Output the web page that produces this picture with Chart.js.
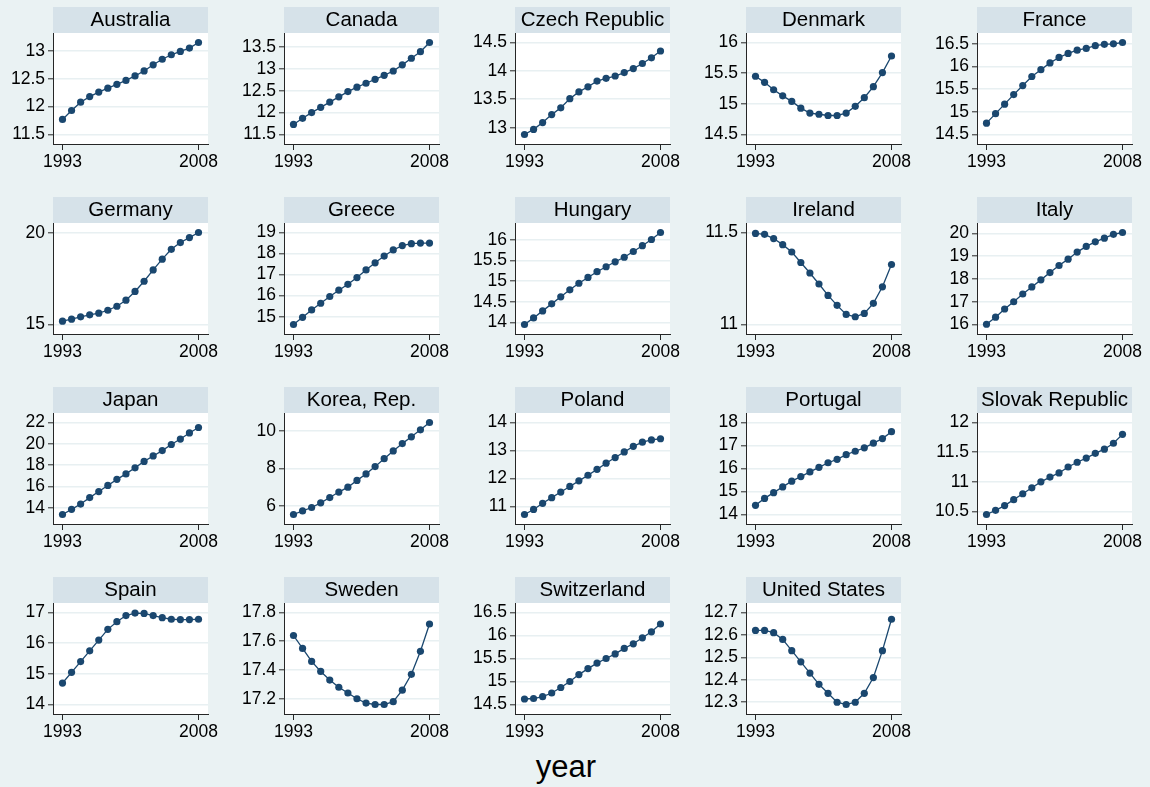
<!DOCTYPE html>
<html>
<head>
<meta charset="utf-8">
<title>year</title>
<script src="https://cdn.jsdelivr.net/npm/chart.js@4.4.1/dist/chart.umd.min.js"></script>
<style>
  html, body { margin: 0; padding: 0; background: #eaf2f3; }
  #fig { position: relative; width: 1150px; height: 787px; overflow: hidden; background: #eaf2f3;
         font-family: "Liberation Sans", Arial, sans-serif; }
  #fig canvas { position: absolute; }
  #xtitle { position: absolute; left: 0; width: 1132px; top: 749px; text-align: center;
            font-size: 31px; line-height: 36px; color: #000; }
</style>
</head>
<body>
<div id="fig"><div id="xtitle">year</div></div>
<script>
// ---- data ----
const years = [1993, 1994, 1995, 1996, 1997, 1998, 1999, 2000, 2001, 2002, 2003, 2004, 2005, 2006, 2007, 2008];
const xTicks = [1993, 2008];

const countries = ["Australia", "Canada", "Czech Republic", "Denmark", "France",
                   "Germany", "Greece", "Hungary", "Ireland", "Italy",
                   "Japan", "Korea, Rep.", "Poland", "Portugal", "Slovak Republic",
                   "Spain", "Sweden", "Switzerland", "United States"];

const australia    = [11.77, 11.93, 12.08, 12.18, 12.26, 12.33, 12.40, 12.47, 12.55, 12.64, 12.75, 12.85, 12.93, 12.99, 13.05, 13.15];
const canada       = [11.73, 11.87, 12.00, 12.12, 12.24, 12.36, 12.48, 12.58, 12.67, 12.76, 12.85, 12.95, 13.09, 13.24, 13.39, 13.60];
const czech        = [12.88, 12.97, 13.09, 13.23, 13.35, 13.51, 13.63, 13.72, 13.82, 13.87, 13.91, 13.97, 14.04, 14.13, 14.23, 14.35];
const denmark      = [15.45, 15.35, 15.23, 15.13, 15.04, 14.93, 14.85, 14.83, 14.81, 14.81, 14.85, 14.96, 15.10, 15.28, 15.51, 15.78];
const france       = [14.75, 14.96, 15.17, 15.38, 15.58, 15.78, 15.93, 16.08, 16.20, 16.29, 16.36, 16.40, 16.46, 16.49, 16.50, 16.53];
const germany      = [15.18, 15.29, 15.42, 15.53, 15.62, 15.78, 16.00, 16.33, 16.81, 17.37, 17.99, 18.58, 19.12, 19.49, 19.76, 20.04];
const greece       = [14.63, 14.97, 15.32, 15.64, 15.96, 16.26, 16.54, 16.86, 17.22, 17.56, 17.88, 18.17, 18.38, 18.47, 18.50, 18.50];
const hungary      = [13.95, 14.11, 14.28, 14.45, 14.62, 14.79, 14.95, 15.09, 15.23, 15.35, 15.47, 15.58, 15.72, 15.86, 16.01, 16.18];
const ireland      = [11.495, 11.49, 11.467, 11.434, 11.394, 11.337, 11.28, 11.22, 11.158, 11.104, 11.055, 11.042, 11.06, 11.115, 11.205, 11.326];
const italy        = [16.01, 16.32, 16.68, 17.00, 17.34, 17.65, 17.96, 18.28, 18.59, 18.87, 19.18, 19.43, 19.63, 19.79, 19.96, 20.04];
const japan        = [13.39, 13.87, 14.37, 14.97, 15.54, 16.11, 16.68, 17.19, 17.76, 18.36, 18.87, 19.37, 19.94, 20.45, 21.02, 21.53];
const korea        = [5.56, 5.75, 5.93, 6.18, 6.46, 6.75, 7.01, 7.37, 7.71, 8.10, 8.52, 8.93, 9.32, 9.68, 10.05, 10.44];
const poland       = [10.72, 10.90, 11.12, 11.32, 11.52, 11.72, 11.92, 12.12, 12.33, 12.55, 12.75, 12.95, 13.15, 13.30, 13.38, 13.42];
const portugal     = [14.40, 14.70, 14.95, 15.20, 15.45, 15.65, 15.85, 16.05, 16.25, 16.40, 16.60, 16.75, 16.90, 17.10, 17.30, 17.60];
const slovak       = [10.45, 10.52, 10.60, 10.70, 10.80, 10.90, 11.00, 11.08, 11.15, 11.25, 11.33, 11.40, 11.48, 11.55, 11.65, 11.80];
const spain        = [14.70, 15.05, 15.40, 15.75, 16.10, 16.45, 16.70, 16.90, 16.98, 16.97, 16.90, 16.83, 16.78, 16.77, 16.77, 16.78];
const sweden       = [17.64, 17.55, 17.46, 17.39, 17.33, 17.28, 17.24, 17.20, 17.17, 17.16, 17.16, 17.18, 17.26, 17.37, 17.53, 17.72];
const switzerland  = [14.62, 14.63, 14.67, 14.75, 14.87, 15.00, 15.15, 15.28, 15.40, 15.50, 15.60, 15.72, 15.82, 15.95, 16.08, 16.25];
const unitedStates = [12.62, 12.62, 12.61, 12.58, 12.53, 12.48, 12.43, 12.38, 12.34, 12.30, 12.29, 12.30, 12.34, 12.41, 12.53, 12.67];

const australiaTicks    = [11.5, 12, 12.5, 13];
const canadaTicks       = [11.5, 12, 12.5, 13, 13.5];
const czechTicks        = [13, 13.5, 14, 14.5];
const denmarkTicks      = [14.5, 15, 15.5, 16];
const franceTicks       = [14.5, 15, 15.5, 16, 16.5];
const germanyTicks      = [15, 20];
const greeceTicks       = [15, 16, 17, 18, 19];
const hungaryTicks      = [14, 14.5, 15, 15.5, 16];
const irelandTicks      = [11, 11.5];
const italyTicks        = [16, 17, 18, 19, 20];
const japanTicks        = [14, 16, 18, 20, 22];
const koreaTicks        = [6, 8, 10];
const polandTicks       = [11, 12, 13, 14];
const portugalTicks     = [14, 15, 16, 17, 18];
const slovakTicks       = [10.5, 11, 11.5, 12];
const spainTicks        = [14, 15, 16, 17];
const swedenTicks       = [17.2, 17.4, 17.6, 17.8];
const switzerlandTicks  = [14.5, 15, 15.5, 16, 16.5];
const unitedStatesTicks = [12.3, 12.4, 12.5, 12.6, 12.7];

const seriesList = [australia, canada, czech, denmark, france, germany, greece, hungary, ireland, italy,
                    japan, korea, poland, portugal, slovak, spain, sweden, switzerland, unitedStates];
const tickList = [australiaTicks, canadaTicks, czechTicks, denmarkTicks, franceTicks, germanyTicks,
                  greeceTicks, hungaryTicks, irelandTicks, italyTicks, japanTicks, koreaTicks,
                  polandTicks, portugalTicks, slovakTicks, spainTicks, swedenTicks, switzerlandTicks,
                  unitedStatesTicks];

// ---- look ----
const FONT = '"Liberation Sans", Arial, sans-serif';
const NAVY = '#1a476f';
const STRIP = '#d6e2e9';
const GRID = '#e8f0f2';
const AXIS = '#262626';

// panel geometry (px)
const COLS = 5, COL_STEP = 230.9, ROW_STEP = 190;
const Y_AXIS_W = 53, PLOT_W = 155, CANVAS_W = 230, CANVAS_H = 190;
const STRIP_TOP = 7, PLOT_TOP = 33, X_AXIS_H = 46;
const PLOT_H = CANVAS_H - PLOT_TOP - X_AXIS_H;   // 111
const INNER_MARGIN = 9.5;                          // gap between data/ticks and plot edge

const fmt = v => String(Math.round(v * 1000) / 1000);

// strip title above each plot region and white plot background
const panelFrame = {
  id: 'panelFrame',
  beforeDraw(chart, args, opts) {
    const { ctx, chartArea: a } = chart;
    ctx.save();
    ctx.fillStyle = STRIP;
    ctx.fillRect(a.left, STRIP_TOP, a.right - a.left, a.top - STRIP_TOP);
    ctx.fillStyle = '#ffffff';
    ctx.fillRect(a.left, a.top, a.right - a.left, a.bottom - a.top);
    ctx.fillStyle = '#000000';
    ctx.font = '20.5px ' + FONT;
    ctx.textAlign = 'center';
    ctx.textBaseline = 'middle';
    ctx.fillText(opts.text, (a.left + a.right) / 2, (STRIP_TOP + a.top) / 2 + 0.5);
    ctx.restore();
  }
};

const fig = document.getElementById('fig');

countries.forEach((name, i) => {
  const col = i % COLS, row = Math.floor(i / COLS);
  const values = seriesList[i];
  const ticks = tickList[i];

  const canvas = document.createElement('canvas');
  canvas.width = CANVAS_W;
  canvas.height = CANVAS_H;
  const plotLeft = Math.round(53.3 + col * COL_STEP);
  canvas.style.left = (plotLeft - Y_AXIS_W) + 'px';
  canvas.style.top = (row * ROW_STEP) + 'px';
  canvas.style.width = CANVAS_W + 'px';
  canvas.style.height = CANVAS_H + 'px';
  fig.appendChild(canvas);

  // y range: data and ticks together, with a fixed pixel margin
  const lo = Math.min(Math.min(...values), ticks[0]);
  const hi = Math.max(Math.max(...values), ticks[ticks.length - 1]);
  const yPad = (hi - lo) * INNER_MARGIN / (PLOT_H - 2 * INNER_MARGIN);
  const xPad = (years[years.length - 1] - years[0]) * INNER_MARGIN / (PLOT_W - 2 * INNER_MARGIN);

  new Chart(canvas, {
    type: 'line',
    data: {
      datasets: [{
        data: years.map((y, k) => ({ x: y, y: values[k] })),
        borderColor: NAVY,
        borderWidth: 1.3,
        backgroundColor: NAVY,
        pointRadius: 3.6,
        pointBorderWidth: 0,
        pointBackgroundColor: NAVY,
        tension: 0,
        fill: false
      }]
    },
    options: {
      responsive: false,
      animation: false,
      devicePixelRatio: 1,
      layout: { padding: { top: PLOT_TOP, left: 0, right: CANVAS_W - Y_AXIS_W - PLOT_W, bottom: 0 } },
      plugins: {
        legend: { display: false },
        tooltip: { enabled: false },
        title: { display: false },
        panelFrame: { text: name }
      },
      scales: {
        x: {
          type: 'linear',
          min: years[0] - xPad,
          max: years[years.length - 1] + xPad,
          afterBuildTicks: s => { s.ticks = xTicks.map(v => ({ value: v })); },
          afterFit: s => { s.height = X_AXIS_H; },
          grid: { drawOnChartArea: false, drawTicks: true, tickLength: 6, tickColor: AXIS, tickWidth: 1 },
          border: { display: true, color: AXIS, width: 1 },
          ticks: { color: '#000', font: { family: FONT, size: 17.5 }, padding: 2, maxRotation: 0,
                   autoSkip: false, callback: v => String(v) }
        },
        y: {
          type: 'linear',
          min: lo - yPad,
          max: hi + yPad,
          afterBuildTicks: s => { s.ticks = ticks.map(v => ({ value: v })); },
          afterFit: s => { s.width = Y_AXIS_W; },
          grid: { color: GRID, lineWidth: 1.6, drawTicks: true, tickLength: 5, tickColor: AXIS, tickWidth: 1 },
          border: { display: true, color: AXIS, width: 1 },
          ticks: { color: '#000', font: { family: FONT, size: 17.5 }, padding: 3,
                   autoSkip: false, callback: v => fmt(v) }
        }
      }
    },
    plugins: [panelFrame]
  });
});
</script>
</body>
</html>
